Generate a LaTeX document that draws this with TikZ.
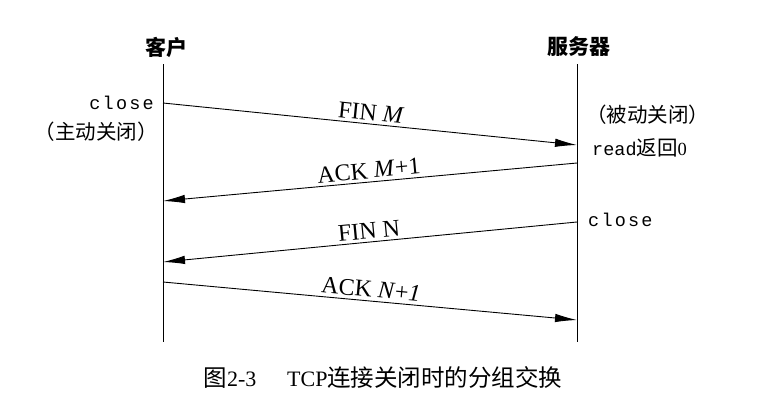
\documentclass[tikz,border=0pt]{standalone}
\usepackage{fontspec}
\setmainfont{Liberation Serif}
\setmonofont{Liberation Mono}
\newfontfamily\cjk{Noto Sans CJK SC}
\newfontfamily\wmono[LetterSpace=12]{Liberation Mono}
\usetikzlibrary{arrows.meta}
\begin{document}
\begin{tikzpicture}[x=1pt,y=-1pt,
  life/.style={line width=0.9pt},
  msg/.style={line width=0.9pt,-{Latex[length=22pt,width=8.5pt]}},
  lbl/.style={font=\fontsize{24}{26}\selectfont,above=2pt,sloped,midway,inner sep=1pt},
  hdr/.style={font=\cjk\bfseries\fontsize{21}{23}\selectfont},
  note/.style={font=\fontsize{18.5}{20}\selectfont,inner sep=0pt},
  cnote/.style={font=\cjk\fontsize{20.5}{22}\selectfont,inner sep=0pt}]
\useasboundingbox (0,0) rectangle (769,407);
% lifelines
\coordinate (ct) at (163,64);  \coordinate (cb) at (163,342);
\coordinate (st) at (577,64);  \coordinate (sb) at (577,342);
\draw[life] (ct) -- (cb);
\draw[life] (st) -- (sb);
\node[hdr] (client) at (166,47) {客户};
\node[hdr] (server) at (579,47) {服务器};
% message endpoints
\coordinate (c1) at (163,103); \coordinate (s1) at (577,145);
\coordinate (s2) at (577,163); \coordinate (c2) at (163,201);
\coordinate (s3) at (577,222); \coordinate (c3) at (163,262);
\coordinate (c4) at (163,282); \coordinate (s4) at (577,320);
\draw[msg] (c1) -- node[lbl] (m1) {FIN \textit{M}} (s1);
\draw[msg] (s2) -- node[lbl] (m2) {ACK \textit{M}+1} (c2);
\draw[msg] (s3) -- node[lbl] (m3) {FIN N} (c3);
\draw[msg] (c4) -- node[lbl] (m4) {ACK \textit{N}+\textit{1}} (s4);
% notes
\node[note,anchor=east] (cclose) at (154,103) {\wmono close};
\node[cnote,anchor=east] (active) at (158,132) {（主动关闭）};
\node[cnote,anchor=west] (passive) at (586,115) {（被动关闭）};
\node[note,anchor=west] (read) at (592,148) {\ttfamily read{\cjk\fontsize{20.5}{22}\selectfont 返回}\rmfamily 0};
\node[note,anchor=west] (sclose) at (588,220) {\wmono close};
% caption
\node[font=\fontsize{22}{24}\selectfont] (cap) at (383,377) {{\cjk\fontsize{23.5}{25}\selectfont 图}2-3\hspace{1.4em}TCP{\cjk\fontsize{23.5}{25}\selectfont 连接关闭时的分组交换}};
\end{tikzpicture}
\end{document}
